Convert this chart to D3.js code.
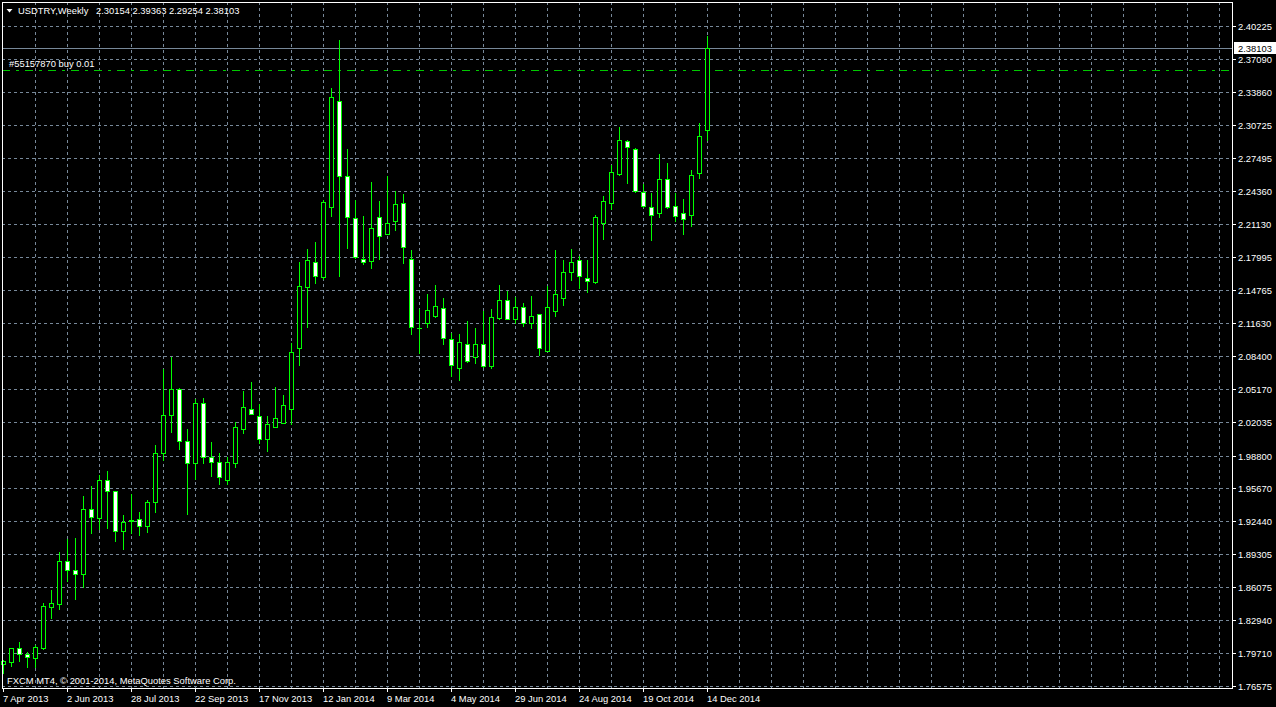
<!DOCTYPE html>
<html><head><meta charset="utf-8">
<script src="https://cdn.jsdelivr.net/npm/d3@7"></script>
<style>
html,body{margin:0;padding:0;background:#000;overflow:hidden}
svg{display:block}
text{font-family:"Liberation Sans",Arial,sans-serif;font-size:9.4px;fill:#fff}
</style>
</head><body>
<svg id="c" width="1276" height="707"></svg>
<script>
// ---------------- data ----------------
const symbolLabel = "USDTRY,Weekly";
const firstWeek = new Date(2013, 3, 7);     // Sunday 7 Apr 2013
const afterLastWeek = new Date(2014, 11, 15); // after 14 Dec 2014

const open = [1.7870,1.7892,1.8021,1.7963,1.7930,1.8027,1.8422,1.8451,1.8863,1.8773,
1.8735,1.9361,1.9275,1.9641,1.9535,1.9149,1.9249,1.9265,1.9198,1.9429,
1.9902,2.0268,2.0519,2.0017,1.9805,2.0384,1.9863,1.9815,1.9644,1.9811,
2.0139,2.0326,2.0258,2.0035,2.0152,2.0191,2.0326,2.0914,2.1502,2.1744,
2.1605,2.2274,2.3296,2.2573,2.2168,2.1772,2.1753,2.2178,2.2019,2.2145,
2.2313,2.1772,2.1107,2.1161,2.1229,2.1300,2.1001,2.0727,2.0953,2.0827,
2.0953,2.0746,2.1206,2.1380,2.1197,2.1312,2.1158,2.1245,2.0891,2.1277,
2.1396,2.1653,2.1766,2.1592,2.1556,2.2125,2.2318,2.2598,2.2910,2.2833,
2.2419,2.2274,2.2222,2.2544,2.2284,2.2219,2.2203,2.2608,2.30154];

const high = [1.7918,1.8024,1.8091,1.7995,1.8062,1.8465,1.8593,1.8959,1.9088,1.9091,
1.9499,1.9596,1.9702,1.9740,1.9538,1.9316,1.9519,1.9345,1.9458,1.9991,
2.0724,2.0840,2.0541,2.0146,2.0432,2.0445,2.0017,1.9911,1.9878,2.0213,
2.0512,2.0599,2.0387,2.0271,2.0551,2.0473,2.0972,2.1756,2.1881,2.1949,
2.2351,2.3434,2.3897,2.2846,2.2354,2.2200,2.2528,2.2344,2.2585,2.2438,
2.2412,2.1872,2.1303,2.1448,2.1537,2.1409,2.1068,2.1059,2.1187,2.1120,
2.1281,2.1303,2.1534,2.1476,2.1419,2.1361,2.1428,2.1250,2.1522,2.1872,
2.1775,2.1881,2.1814,2.1775,2.2209,2.2393,2.2687,2.3058,2.2933,2.2856,
2.2508,2.2422,2.2798,2.2711,2.2424,2.2367,2.2643,2.3097,2.39363];

const low = [1.7783,1.7853,1.7899,1.7838,1.7843,1.8017,1.8316,1.8403,1.8673,1.8499,
1.8612,1.9136,1.9174,1.9184,1.9056,1.8981,1.9136,1.9114,1.9143,1.9335,
1.9837,2.0107,1.9943,1.9319,1.9657,1.9811,1.9686,1.9601,1.9603,1.9772,
2.0100,2.0278,2.0004,1.9927,2.0152,2.0191,2.0181,2.0750,2.1117,2.1547,
2.1580,2.2193,2.1614,2.1884,2.1782,2.1724,2.1691,2.1778,2.2019,2.2055,
2.1740,2.1052,2.0869,2.1120,2.1213,2.0959,2.0644,2.0611,2.0785,2.0772,
2.0734,2.0727,2.1197,2.1200,2.1155,2.1132,2.1113,2.0850,2.0891,2.1229,
2.1332,2.1576,2.1499,2.1460,2.1547,2.1971,2.2262,2.2586,2.2508,2.2422,
2.2274,2.1959,2.2180,2.2270,2.2145,2.2016,2.2097,2.2559,2.29254];

const close = [1.7899,1.8021,1.7963,1.7934,1.8031,1.8429,1.8455,1.8863,1.8773,1.8735,
1.9361,1.9284,1.9641,1.9535,1.9149,1.9242,1.9263,1.9198,1.9429,1.9902,
2.0268,2.0519,2.0017,1.9805,2.0384,1.9863,1.9815,1.9670,1.9815,2.0152,
2.0345,2.0278,2.0035,2.0181,2.0239,2.0364,2.0876,2.1512,2.1763,2.1616,
2.2322,2.3335,2.2579,2.2178,2.1798,2.1744,2.2071,2.2000,2.2120,2.2306,
2.1888,2.1122,2.1107,2.1281,2.1319,2.1011,2.0756,2.0972,2.0795,2.0953,
2.0746,2.1213,2.1380,2.1200,2.1312,2.1161,2.1226,2.0920,2.1312,2.1438,
2.1650,2.1746,2.1614,2.1560,2.2180,2.2335,2.2612,2.2920,2.2853,2.2428,
2.2289,2.2203,2.2544,2.2280,2.2193,2.2164,2.2583,2.2962,2.38103];

const yTicks = [2.40225,2.37090,2.33860,2.30725,2.27495,2.24360,2.21130,2.17995,2.14765,2.11630,
2.08400,2.05170,2.02035,1.98800,1.95670,1.92440,1.89305,1.86075,1.82940,1.79710,1.76575];

const xTickLabels = ["7 Apr 2013","2 Jun 2013","28 Jul 2013","22 Sep 2013","17 Nov 2013","12 Jan 2014",
"9 Mar 2014","4 May 2014","29 Jun 2014","24 Aug 2014","19 Oct 2014","14 Dec 2014"];

const orderLabel = "#55157870 buy 0.01";
const orderPrice = 2.3598;
const footerText = "FXCM MT4, \u00A9 2001-2014, MetaQuotes Software Corp.";

// ---------------- chart ----------------
const weeks = d3.timeWeeks(firstWeek, afterLastWeek);
const bars = weeks.map((d, i) => ({date: d, i, o: open[i], h: high[i], l: low[i], c: close[i]}));
const last = bars[bars.length - 1];

const W = 1276, H = 707;
const L = 2, T = 2, R = 1232, B = 688;
const LIME = "#00ff00", GRID = "#778899";

const svg = d3.select("#c");
svg.append("rect").attr("width", W).attr("height", H).attr("fill", "#000");

const y = d3.scaleLinear().domain([1.76575, 2.40225]).range([686, 26]);
// one weekly bar every 8 px; index-based so the grid can run into the empty future area
const x = d3.scaleLinear().domain([0, bars.length - 1]).range([3, 707]);
const maxIndex = Math.floor(x.invert(R - 1));

const py = v => Math.round(y(v)) + 0.5;
const px = i => Math.round(x(i)) + 0.5;

// grid
const gGrid = svg.append("g").attr("stroke", GRID).attr("stroke-dasharray", "3,3").attr("shape-rendering", "crispEdges");
gGrid.selectAll("line.h").data(yTicks).join("line").attr("class", "h")
  .attr("x1", L).attr("x2", R).attr("y1", d => py(d)).attr("y2", d => py(d));
gGrid.selectAll("line.v").data(d3.range(4, maxIndex + 1, 4)).join("line").attr("class", "v")
  .attr("x1", d => px(d)).attr("x2", d => px(d)).attr("y1", T).attr("y2", B);

// current price line
svg.append("line").attr("x1", L).attr("x2", R).attr("y1", py(last.c)).attr("y2", py(last.c))
  .attr("stroke", GRID).attr("shape-rendering", "crispEdges");

// order line
svg.append("line").attr("x1", L).attr("x2", R).attr("y1", py(orderPrice)).attr("y2", py(orderPrice))
  .attr("stroke", "#00c800").attr("stroke-dasharray", "8,6,3,6").attr("shape-rendering", "crispEdges");

// candles
const gC = svg.append("g").attr("shape-rendering", "crispEdges");
const cg = gC.selectAll("g").data(bars).join("g");
cg.append("line")
  .attr("x1", d => px(d.i)).attr("x2", d => px(d.i))
  .attr("y1", d => py(d.h)).attr("y2", d => py(d.l) + 0.5)
  .attr("stroke", LIME);
cg.each(function(d) {
  const g = d3.select(this);
  const top = Math.round(y(Math.max(d.o, d.c)));
  const bot = Math.round(y(Math.min(d.o, d.c)));
  const cx = Math.round(x(d.i));
  if (bot - top < 1) {
    g.append("line").attr("x1", cx - 2).attr("x2", cx + 3).attr("y1", top + 0.5).attr("y2", top + 0.5).attr("stroke", LIME);
  } else {
    g.append("rect").attr("x", cx - 1.5).attr("y", top + 0.5).attr("width", 4).attr("height", bot - top)
      .attr("fill", d.c >= d.o ? "#000" : "#fff").attr("stroke", LIME);
  }
});

// frame
svg.append("rect").attr("x", L + 0.5).attr("y", T + 0.5).attr("width", R - L).attr("height", B - T)
  .attr("fill", "none").attr("stroke", "#fff").attr("shape-rendering", "crispEdges");

// right price axis
const gY = svg.append("g");
gY.selectAll("line").data(yTicks).join("line")
  .attr("x1", R).attr("x2", R + 4).attr("y1", d => py(d)).attr("y2", d => py(d))
  .attr("stroke", "#fff").attr("shape-rendering", "crispEdges");
gY.selectAll("text").data(yTicks).join("text")
  .attr("x", 1238).attr("y", d => Math.round(y(d)) + 3.5).text(d3.format(".5f"));

// current price tag
svg.append("rect").attr("x", 1234).attr("y", Math.round(y(last.c)) - 6).attr("width", 42).attr("height", 12).attr("fill", "#fff");
svg.append("text").attr("x", 1238).attr("y", Math.round(y(last.c)) + 3.5).style("fill", "#000").text(d3.format(".5f")(last.c));

// bottom time axis
const xTickIdx = xTickLabels.map((_, k) => k * 8);
const gX = svg.append("g");
gX.selectAll("line").data(xTickIdx).join("line")
  .attr("x1", d => px(d)).attr("x2", d => px(d)).attr("y1", B).attr("y2", B + 4)
  .attr("stroke", "#fff").attr("shape-rendering", "crispEdges");
gX.selectAll("text").data(xTickIdx).join("text")
  .attr("x", d => Math.round(x(d))).attr("y", 701.5).text((d, k) => xTickLabels[k]);

// header
svg.append("path").attr("d", "M6.5,9 L12.5,9 L9.5,12.5 Z").attr("fill", "#fff");
svg.append("text").attr("x", 18).attr("y", 14).text(symbolLabel);
svg.append("text").attr("x", 96).attr("y", 14)
  .text([last.o, last.h, last.l, last.c].map(d3.format(".5f")).join(" "));

svg.append("text").attr("x", 9).attr("y", 67).text(orderLabel);
svg.append("text").attr("x", 7).attr("y", 684).text(footerText);
</script>
</body></html>
